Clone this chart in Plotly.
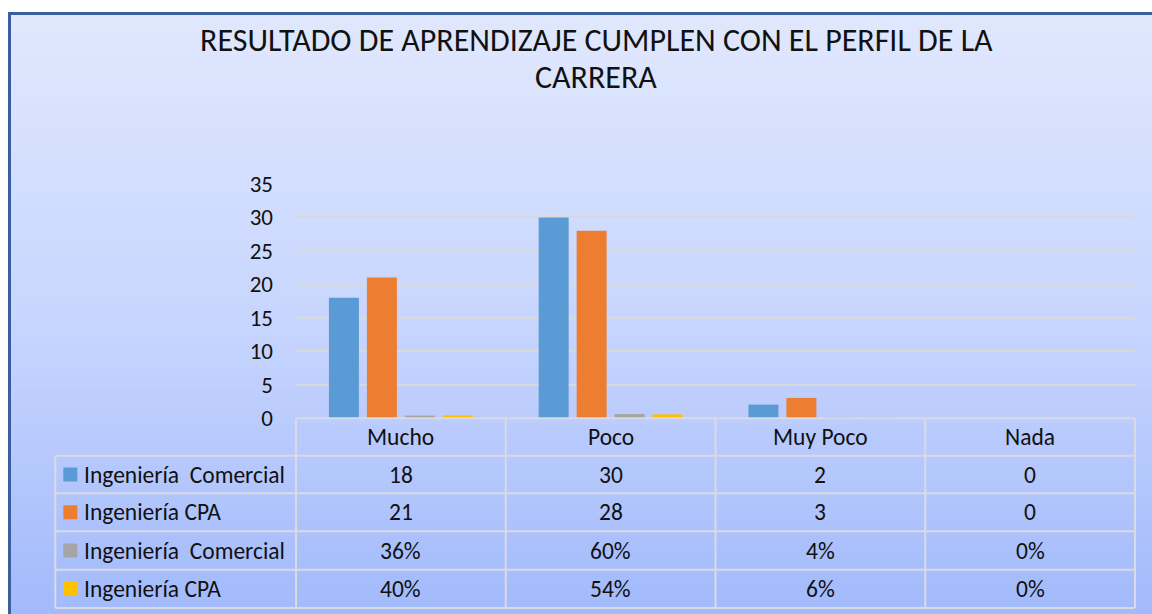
import plotly.graph_objects as go

# ---- data ----
categories = ["Mucho", "Poco", "Muy Poco", "Nada"]
series_names = ["Ingeniería\u00a0 Comercial", "Ingeniería CPA",
                "Ingeniería\u00a0 Comercial", "Ingeniería CPA"]
comercial_count = [18, 30, 2, 0]
cpa_count = [21, 28, 3, 0]
comercial_pct = [0.36, 0.60, 0.04, 0.00]
cpa_pct = [0.40, 0.54, 0.06, 0.00]
colors = ["#5B9BD5", "#ED7D31", "#A5A5A5", "#FFC000"]
y_ticks = [0, 5, 10, 15, 20, 25, 30, 35]
title_lines = ["RESULTADO DE APRENDIZAJE CUMPLEN CON EL PERFIL DE LA", "CARRERA"]

series_values = [comercial_count, cpa_count, comercial_pct, cpa_pct]
series_text = [[str(v) for v in comercial_count], [str(v) for v in cpa_count],
               [f"{v:.0%}" for v in comercial_pct], [f"{v:.0%}" for v in cpa_pct]]

W, H = 1152, 614
PL, PR, PT, PB = 296, 1135, 184, 418  # pixel positions of plot area
FONT = "Carlito, Calibri, Lato, sans-serif"


def px(x):
    return (x - PL) / (PR - PL)


def py(y):
    return (PB - y) / (PB - PT)


fig = go.Figure()
for name, vals, col in zip(series_names, series_values, colors):
    fig.add_trace(go.Bar(x=categories, y=vals, name=name, marker=dict(color=col, line=dict(width=0))))

shapes = []
# gradient background
top_c = (224, 232, 253)
mid_c = (200, 214, 254)
bot_c = (162, 186, 252)
N = 60
y0, y1 = 14, 616
for i in range(N):
    t = (i + 0.5) / N
    if t < 0.5:
        a, b, f = top_c, mid_c, t / 0.5
    else:
        a, b, f = mid_c, bot_c, (t - 0.5) / 0.5
    c = tuple(round(a[k] + (b[k] - a[k]) * f) for k in range(3))
    ya = y0 + (y1 - y0) * i / N
    yb = y0 + (y1 - y0) * (i + 1) / N + 0.6
    shapes.append(dict(type="rect", xref="paper", yref="paper", layer="below",
                       x0=px(10), x1=px(1156), y0=py(ya), y1=py(yb),
                       fillcolor=f"rgb{c}", line=dict(width=0)))
# frame border
shapes.append(dict(type="line", xref="paper", yref="paper", x0=px(8), x1=px(1156),
                   y0=py(13.5), y1=py(13.5), line=dict(color="#3B5E9F", width=3)))
shapes.append(dict(type="line", xref="paper", yref="paper", x0=px(9.5), x1=px(9.5),
                   y0=py(12), y1=py(616), line=dict(color="#3B5E9F", width=3)))

# table grid
grid_c = "#D8DBE3"
col_edges = [PL + (PR - PL) * i / len(categories) for i in range(len(categories) + 1)]
row_edges = [418.3, 455.7, 493.3, 531.3, 569.7, 608]
LEFT = 55.3
for j, ye in enumerate(row_edges):
    xs = PL if j == 0 else LEFT
    shapes.append(dict(type="line", xref="paper", yref="paper", x0=px(xs), x1=px(PR),
                       y0=py(ye), y1=py(ye), line=dict(color=grid_c, width=2)))
for xe in col_edges:
    shapes.append(dict(type="line", xref="paper", yref="paper", x0=px(xe), x1=px(xe),
                       y0=py(row_edges[0]), y1=py(row_edges[-1]), line=dict(color=grid_c, width=2)))
shapes.append(dict(type="line", xref="paper", yref="paper", x0=px(LEFT), x1=px(LEFT),
                   y0=py(row_edges[1]), y1=py(row_edges[-1]), line=dict(color=grid_c, width=2)))

annotations = []
for line, yy in zip(title_lines, [40, 77]):
    annotations.append(dict(text=line, xref="paper", yref="paper", x=px(596), y=py(yy),
                            showarrow=False, xanchor="center", yanchor="middle",
                            font=dict(family=FONT, size=32, color="#111111")))
for i, cat in enumerate(categories):
    xc = (col_edges[i] + col_edges[i + 1]) / 2
    annotations.append(dict(text=cat, xref="paper", yref="paper", x=px(xc),
                            y=py((row_edges[0] + row_edges[1]) / 2), showarrow=False,
                            xanchor="center", yanchor="middle",
                            font=dict(family=FONT, size=23.5, color="#111111")))
for r in range(len(series_names)):
    yc = (row_edges[r + 1] + row_edges[r + 2]) / 2
    shapes.append(dict(type="rect", xref="paper", yref="paper", x0=px(63.3), x1=px(77.3),
                       y0=py(yc - 7), y1=py(yc + 7), fillcolor=colors[r], line=dict(width=0)))
    annotations.append(dict(text=series_names[r], xref="paper", yref="paper", x=px(82.5), y=py(yc),
                            showarrow=False, xanchor="left", yanchor="middle",
                            font=dict(family=FONT, size=23.5, color="#111111")))
    for i in range(len(categories)):
        xc = (col_edges[i] + col_edges[i + 1]) / 2
        annotations.append(dict(text=series_text[r][i], xref="paper", yref="paper", x=px(xc), y=py(yc),
                                showarrow=False, xanchor="center", yanchor="middle",
                                font=dict(family=FONT, size=23.5, color="#111111")))

fig.update_layout(
    width=W, height=H,
    margin=dict(l=PL, r=W - PR, t=PT, b=H - PB, pad=0),
    paper_bgcolor="white", plot_bgcolor="rgba(0,0,0,0)",
    barmode="group", bargap=0.276, bargroupgap=0.21,
    showlegend=False,
    shapes=shapes, annotations=annotations,
    font=dict(family=FONT, size=23, color="#111111"),
)
fig.update_xaxes(showticklabels=False, showgrid=False, zeroline=False, showline=False, ticks="")
fig.update_yaxes(range=[0, 35], tickvals=y_ticks, showgrid=True, gridcolor="#D9D9D9", gridwidth=1.5,
                 zeroline=False, showline=False, ticks="", ticklabelstandoff=22,
                 tickfont=dict(family=FONT, size=23, color="#111111"))

fig.write_html(
    "out.html",
    config={"displayModeBar": False},
    post_script="document.body.style.margin='0';document.body.style.overflow='hidden';",
)
